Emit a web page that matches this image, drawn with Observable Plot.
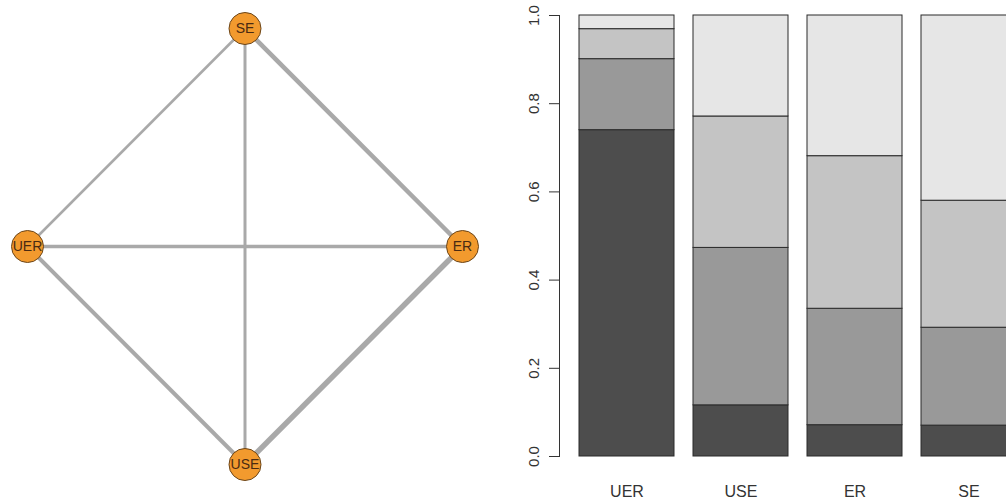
<!DOCTYPE html>
<html>
<head>
<meta charset="utf-8">
<script src="https://cdn.jsdelivr.net/npm/d3@7"></script>
<script src="https://cdn.jsdelivr.net/npm/@observablehq/plot@0.6"></script>
<style>
  html, body { margin: 0; padding: 0; background: #fff; overflow: hidden; }
  #wrap { display: flex; width: 1006px; height: 502px; overflow: hidden; }
  #wrap > * { flex-shrink: 0; }
  svg { font-family: "Liberation Sans", Arial, sans-serif; }
</style>
</head>
<body>
<div id="wrap"></div>
<script>
// ---- Network data ----
const nodeNames = ["SE", "UER", "ER", "USE"];
const nodeX = [0, -1, 1, 0];
const nodeY = [1, 0, 0, -1];
const edgeFrom = ["SE", "SE", "SE", "UER", "UER", "USE"];
const edgeTo = ["UER", "USE", "ER", "ER", "USE", "ER"];
const edgeWeight = [2.5, 3, 4.5, 3.5, 4, 5.5];

// ---- Bar data ----
const categories = ["UER", "USE", "ER", "SE"];
const levels = ["1", "2", "3", "4"];
const level1 = [0.74, 0.116, 0.071, 0.070];
const level2 = [0.161, 0.357, 0.264, 0.222];
const level3 = [0.068, 0.298, 0.346, 0.288];
const level4 = [0.031, 0.229, 0.319, 0.420];
const yTicks = [0, 0.2, 0.4, 0.6, 0.8, 1.0];

const nodes = nodeNames.map((n, i) => ({name: n, x: nodeX[i], y: nodeY[i]}));
const pos = Object.fromEntries(nodes.map(d => [d.name, d]));
const edges = edgeFrom.map((f, i) => ({
  x1: pos[f].x, y1: pos[f].y, x2: pos[edgeTo[i]].x, y2: pos[edgeTo[i]].y, w: edgeWeight[i]
}));

const net = Plot.plot({
  width: 505, height: 502,
  marginLeft: 27, marginRight: 43, marginTop: 28, marginBottom: 38,
  x: {domain: [-1, 1], axis: null},
  y: {domain: [-1, 1], axis: null},
  marks: [
    Plot.link(edges, {x1: "x1", y1: "y1", x2: "x2", y2: "y2", stroke: "#a9a9a9", strokeWidth: d => d.w, strokeOpacity: 1}),
    Plot.dot(nodes, {x: "x", y: "y", r: 16, fill: "#f29a2e", stroke: "#6b4519", strokeWidth: 1, fillOpacity: 1}),
    Plot.text(nodes, {x: "x", y: "y", text: "name", fontSize: 14, fill: "#4a2a12"})
  ]
});

const levelVals = [level1, level2, level3, level4];
const bars = [];
levels.forEach((lv, j) => categories.forEach((c, i) => bars.push({cat: c, level: lv, value: levelVals[j][i]})));

const bar = Plot.plot({
  width: 520, height: 502,
  marginLeft: 54, marginRight: 0, marginTop: 15, marginBottom: 46,
  style: {fontFamily: "Liberation Sans, Arial, sans-serif", color: "#333"},
  x: {domain: categories, range: [73, 511], paddingInner: 0.167, paddingOuter: 0, label: null},
  y: {domain: [0, 1], label: null},
  color: {domain: levels, range: ["#4d4d4d", "#999999", "#c4c4c4", "#e6e6e6"]},
  marks: [
    Plot.barY(bars, {x: "cat", y: "value", fill: "level", stroke: "#2a2a2a", strokeWidth: 1}),
    Plot.axisY({ticks: yTicks, tickFormat: d3.format(".1f"), tickSize: 10, tickPadding: 11, tickRotate: -90, fontSize: 15, label: null}),
    Plot.frame({anchor: "left", stroke: "#333"}),
    Plot.axisX({tickSize: 0, tickPadding: 29, fontSize: 16, label: null})
  ]
});

document.getElementById("wrap").append(net, bar);
</script>
</body>
</html>
